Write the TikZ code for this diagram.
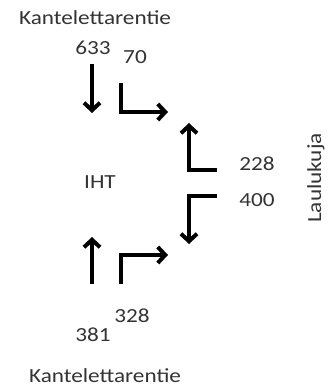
\documentclass[tikz,border=0pt]{standalone}
\usepackage{fontspec}
\setmainfont{Carlito}[FakeStretch=1.16]
\usetikzlibrary{arrows.meta}
\definecolor{lbl}{HTML}{333333}

\begin{document}
\begin{tikzpicture}[
    x=10pt, y=-10pt,
    turn/.style={
        line width=4pt, -{Straight Barb[length=7.5pt, width=16pt, line width=4pt]}
    },
    countlbl/.style={
        font=\fontsize{20}{24}\selectfont, color=lbl, inner sep=0pt
    },
    roadlbl/.style={
        font=\fontsize{20}{24}\selectfont, color=lbl, inner sep=0pt
    }
]

% Layout: 1 unit = 10 px of the 334 x 387 frame, y grows downwards
\useasboundingbox (0, 0) rectangle (33.4, 38.7);

% Road names
\node[roadlbl] (north) at (9.5, 1.8) {Kantelettarentie};
\node[roadlbl] (south) at (10.5, 37.6) {Kantelettarentie};
\node[roadlbl, rotate=90] (east) at (31.6, 17.8) {Laulukuja};
\node[roadlbl] (iht) at (10.0, 18.2) {IHT};

% -- Counts --
\node[countlbl] (n633) at (9.3, 4.8) {633};
\node[countlbl] (n70) at (13.5, 5.7) {70};
\node[countlbl] (n228) at (25.7, 16.4) {228};
\node[countlbl] (n400) at (25.7, 20.0) {400};
\node[countlbl] (n328) at (13.2, 31.6) {328};
\node[countlbl] (n381) at (9.3, 33.5) {381};

% -- Turning movements --
% from the north
\coordinate (a1s) at (9.2, 6.4);
\coordinate (a1e) at (9.2, 11.3);
\draw[turn] (a1s) -- (a1e);

\coordinate (a2s) at (12.1, 8.3);
\coordinate (a2c) at (12.1, 11.2);
\coordinate (a2e) at (16.8, 11.2);
\draw[turn] (a2s) -- (a2c) -- (a2e);

% from the east
\coordinate (a3s) at (21.7, 17.0);
\coordinate (a3c) at (18.9, 17.0);
\coordinate (a3e) at (18.9, 12.3);
\draw[turn] (a3s) -- (a3c) -- (a3e);

\coordinate (a4s) at (21.7, 19.6);
\coordinate (a4c) at (18.9, 19.6);
\coordinate (a4e) at (18.9, 24.4);
\draw[turn] (a4s) -- (a4c) -- (a4e);

% from the south
\coordinate (a5s) at (9.2, 28.4);
\coordinate (a5e) at (9.2, 23.7);
\draw[turn] (a5s) -- (a5e);

\coordinate (a6s) at (12.1, 28.4);
\coordinate (a6c) at (12.1, 25.5);
\coordinate (a6e) at (16.8, 25.5);
\draw[turn] (a6s) -- (a6c) -- (a6e);

\end{tikzpicture}
\end{document}
